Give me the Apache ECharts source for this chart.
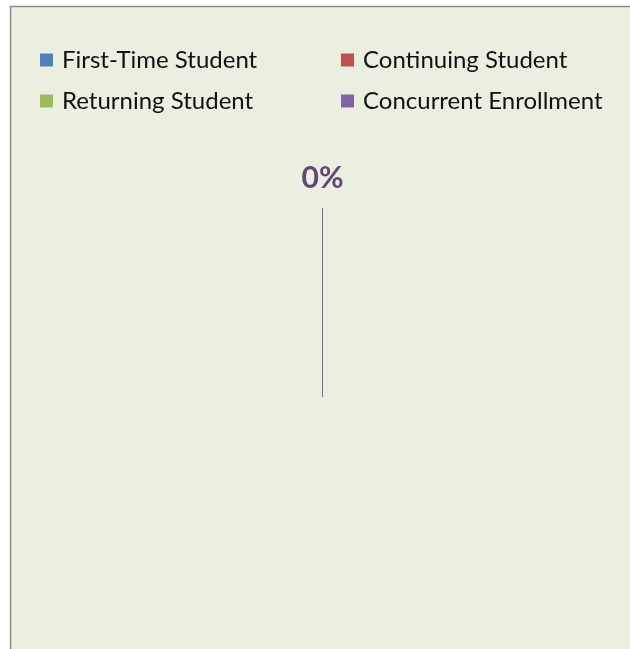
<!DOCTYPE html>
<html><head><meta charset="utf-8">
<script src="https://cdn.jsdelivr.net/npm/echarts@6/dist/echarts.min.js"></script>
<style>html,body{margin:0;padding:0;background:#fff}#c{width:630px;height:649px}</style>
</head><body><div id="c"></div>
<script>
const categories = ['First-Time Student', 'Continuing Student', 'Returning Student', 'Concurrent Enrollment'];
const values = [0, 0, 0, 0];
const colors = ['#4F81BD', '#C0504D', '#9BBB59', '#8064A2'];
const labelShown = [false, false, false, true];

const chart = echarts.init(document.getElementById('c'), null, {renderer: 'canvas'});
const legendText = {fontFamily: 'Lato', fontSize: 24, color: '#111', lineHeight: 24, padding: [0, 0, 0, 4]};
const option = {
  backgroundColor: '#ffffff',
  animation: false,
  graphic: [{
    type: 'rect', z: -10, silent: true,
    shape: {x: 10.5, y: 6.5, width: 700, height: 700},
    style: {fill: '#EBEFDF', stroke: '#8C8C8C', lineWidth: 1.5}
  }],
  legend: [{
    left: 35, top: 43, orient: 'vertical', itemGap: 17,
    itemWidth: 13, itemHeight: 13, icon: 'rect', itemStyle: {borderWidth: 0},
    data: [categories[0], categories[2]], textStyle: legendText, selectedMode: false
  }, {
    left: 336, top: 43, orient: 'vertical', itemGap: 17,
    itemWidth: 13, itemHeight: 13, icon: 'rect', itemStyle: {borderWidth: 0},
    data: [categories[1], categories[3]], textStyle: legendText, selectedMode: false
  }],
  series: [{
    type: 'pie',
    center: [322.5, 397],
    radius: 189,
    startAngle: 90,
    clockwise: true,
    stillShowZeroSum: false,
    showEmptyCircle: false,
    avoidLabelOverlap: false,
    minShowLabelAngle: 0,
    labelLine: {show: false, length: 30, length2: 0},
    label: {
      position: 'outside', distanceToLabelLine: 0,
      formatter: p => Math.round(p.percent || 0) + '%',
      fontFamily: 'Lato', fontWeight: 'bold', fontSize: 30, color: '#5F497A'
    },
    labelLayout: {align: 'center'},
    data: categories.map((name, i) => ({
      name, value: values[i],
      itemStyle: {color: colors[i], borderColor: colors[i], borderWidth: labelShown[i] ? 1 : 0},
      label: {show: labelShown[i]}
    }))
  }]
};
chart.setOption(option);
</script></body></html>
